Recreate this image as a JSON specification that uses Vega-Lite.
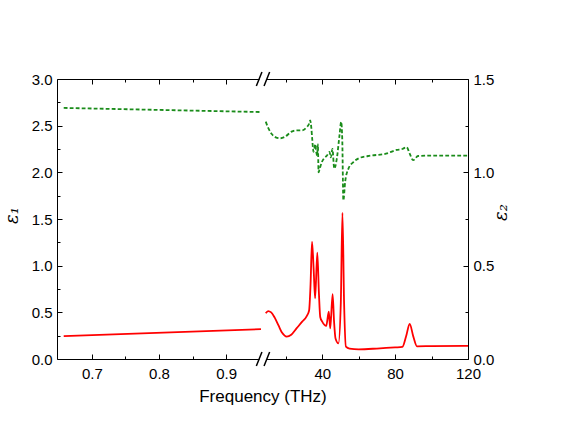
{
  "$schema": "https://vega.github.io/schema/vega-lite/v6.json",
  "width": 411,
  "height": 280,
  "autosize": {"type": "none"},
  "padding": {"left": 57, "top": 79, "right": 100, "bottom": 64},
  "background": "white",
  "config": {
    "view": {"stroke": null},
    "axis": {
      "grid": false,
      "domainColor": "black",
      "domainWidth": 1,
      "tickColor": "black",
      "tickWidth": 1,
      "labelColor": "black",
      "labelFont": "Liberation Sans",
      "labelFontSize": 15,
      "labelFlush": false,
      "labelOverlap": false,
      "titleColor": "black",
      "titleFont": "Liberation Sans",
      "titleFontSize": 16,
      "titleFontWeight": "normal"
    }
  },
  "datasets": {
    "e1": [
      {"f": 0.658, "seg": "L", "v": 2.69},
      {"f": 0.952, "seg": "L", "v": 2.646},
      {"f": 9.0, "seg": "R", "v": 2.543},
      {"f": 10.5, "seg": "R", "v": 2.47},
      {"f": 12.3, "seg": "R", "v": 2.41},
      {"f": 14.5, "seg": "R", "v": 2.375},
      {"f": 16.9, "seg": "R", "v": 2.365},
      {"f": 19.5, "seg": "R", "v": 2.38},
      {"f": 23.2, "seg": "R", "v": 2.436},
      {"f": 26.0, "seg": "R", "v": 2.45},
      {"f": 28.9, "seg": "R", "v": 2.45},
      {"f": 31.6, "seg": "R", "v": 2.486},
      {"f": 32.8, "seg": "R", "v": 2.52},
      {"f": 33.4, "seg": "R", "v": 2.557},
      {"f": 34.0, "seg": "R", "v": 2.48},
      {"f": 34.5, "seg": "R", "v": 2.36},
      {"f": 35.2, "seg": "R", "v": 2.22},
      {"f": 35.7, "seg": "R", "v": 2.26},
      {"f": 36.2, "seg": "R", "v": 2.3},
      {"f": 36.7, "seg": "R", "v": 2.22},
      {"f": 37.2, "seg": "R", "v": 2.18},
      {"f": 37.6, "seg": "R", "v": 2.3},
      {"f": 38.0, "seg": "R", "v": 2.0},
      {"f": 38.5, "seg": "R", "v": 2.03},
      {"f": 39.8, "seg": "R", "v": 2.11},
      {"f": 41.0, "seg": "R", "v": 2.15},
      {"f": 42.6, "seg": "R", "v": 2.18},
      {"f": 44.0, "seg": "R", "v": 2.22},
      {"f": 44.7, "seg": "R", "v": 2.16},
      {"f": 45.6, "seg": "R", "v": 2.25},
      {"f": 46.6, "seg": "R", "v": 2.04},
      {"f": 48.0, "seg": "R", "v": 2.145},
      {"f": 49.5, "seg": "R", "v": 2.4},
      {"f": 50.4, "seg": "R", "v": 2.54},
      {"f": 51.0, "seg": "R", "v": 2.35},
      {"f": 51.6, "seg": "R", "v": 1.7},
      {"f": 52.6, "seg": "R", "v": 1.9},
      {"f": 54.4, "seg": "R", "v": 2.04},
      {"f": 57.1, "seg": "R", "v": 2.11},
      {"f": 60.0, "seg": "R", "v": 2.15},
      {"f": 65.1, "seg": "R", "v": 2.175},
      {"f": 75.0, "seg": "R", "v": 2.2},
      {"f": 80.8, "seg": "R", "v": 2.24},
      {"f": 84.0, "seg": "R", "v": 2.25},
      {"f": 86.3, "seg": "R", "v": 2.27},
      {"f": 88.0, "seg": "R", "v": 2.2},
      {"f": 89.9, "seg": "R", "v": 2.13},
      {"f": 92.6, "seg": "R", "v": 2.175},
      {"f": 100.0, "seg": "R", "v": 2.18},
      {"f": 120.0, "seg": "R", "v": 2.18}
    ],
    "e2": [
      {"f": 0.658, "seg": "L", "v": 0.123},
      {"f": 0.952, "seg": "L", "v": 0.16},
      {"f": 9.0, "seg": "R", "v": 0.245},
      {"f": 10.3, "seg": "R", "v": 0.257},
      {"f": 12.0, "seg": "R", "v": 0.25},
      {"f": 14.0, "seg": "R", "v": 0.22},
      {"f": 16.0, "seg": "R", "v": 0.18},
      {"f": 18.0, "seg": "R", "v": 0.14},
      {"f": 20.5, "seg": "R", "v": 0.12},
      {"f": 23.0, "seg": "R", "v": 0.13},
      {"f": 26.0, "seg": "R", "v": 0.165},
      {"f": 29.0, "seg": "R", "v": 0.2},
      {"f": 31.5, "seg": "R", "v": 0.23},
      {"f": 32.8, "seg": "R", "v": 0.26},
      {"f": 33.6, "seg": "R", "v": 0.4},
      {"f": 34.4, "seg": "R", "v": 0.628},
      {"f": 35.3, "seg": "R", "v": 0.48},
      {"f": 36.1, "seg": "R", "v": 0.325},
      {"f": 37.3, "seg": "R", "v": 0.57},
      {"f": 38.2, "seg": "R", "v": 0.35},
      {"f": 38.9, "seg": "R", "v": 0.225},
      {"f": 40.0, "seg": "R", "v": 0.2},
      {"f": 42.2, "seg": "R", "v": 0.177},
      {"f": 43.6, "seg": "R", "v": 0.253},
      {"f": 44.4, "seg": "R", "v": 0.164},
      {"f": 45.7, "seg": "R", "v": 0.348},
      {"f": 46.5, "seg": "R", "v": 0.2},
      {"f": 47.3, "seg": "R", "v": 0.11},
      {"f": 48.9, "seg": "R", "v": 0.084},
      {"f": 50.2, "seg": "R", "v": 0.3},
      {"f": 51.1, "seg": "R", "v": 0.784},
      {"f": 52.0, "seg": "R", "v": 0.3},
      {"f": 53.0, "seg": "R", "v": 0.066},
      {"f": 55.0, "seg": "R", "v": 0.056},
      {"f": 60.0, "seg": "R", "v": 0.052},
      {"f": 70.0, "seg": "R", "v": 0.056},
      {"f": 80.0, "seg": "R", "v": 0.062},
      {"f": 84.0, "seg": "R", "v": 0.065},
      {"f": 86.0, "seg": "R", "v": 0.12},
      {"f": 88.0, "seg": "R", "v": 0.1875},
      {"f": 90.0, "seg": "R", "v": 0.12},
      {"f": 92.0, "seg": "R", "v": 0.068},
      {"f": 100.0, "seg": "R", "v": 0.069},
      {"f": 120.0, "seg": "R", "v": 0.07}
    ],
    "edges": [
      {"edge": 0},
      {"edge": 3}
    ]
  },
  "layer": [
    {
      "data": {"name": "e1"},
      "mark": {"type": "line", "color": "#1a8c1a", "strokeWidth": 1.8, "strokeDash": [3.8, 2.2], "interpolate": "monotone"},
      "encoding": {
        "x": {
          "field": "f", "type": "quantitative",
          "scale": {"domain": [0.648, 0.955, 7.5, 120], "range": [0, 206, 206, 411], "nice": false, "zero": false},
          "axis": {
            "orient": "bottom",
            "values": [0.7, 0.75, 0.8, 0.85, 0.9, 20, 40, 60, 80, 100, 120],
            "labelExpr": "indexof([0.7, 0.8, 0.9, 40, 80, 120], datum.value) >= 0 ? (datum.value < 1 ? format(datum.value, '.1f') : format(datum.value, 'd')) : ''",
            "tickSize": {"condition": {"test": "indexof([0.7, 0.8, 0.9, 40, 80, 120], datum.value) >= 0", "value": -5}, "value": -3},
            "labelPadding": 12,
            "title": "Frequency (THz)",
            "titleY": 42,
            "titleBaseline": "alphabetic",
            "titleFontSize": 17
          }
        },
        "y": {
          "field": "v", "type": "quantitative",
          "scale": {"domain": [0, 3], "nice": false, "zero": false},
          "axis": {
            "orient": "left",
            "values": [0, 0.25, 0.5, 0.75, 1, 1.25, 1.5, 1.75, 2, 2.25, 2.5, 2.75, 3],
            "labelExpr": "datum.value % 0.5 == 0 ? format(datum.value, '.1f') : ''",
            "tickSize": {"condition": {"test": "datum.value % 0.5 == 0", "value": -5}, "value": -3},
            "labelPadding": 10,
            "title": "ε₁",
            "titleFont": "DejaVu Serif",
            "titleFontStyle": "italic",
            "titleFontSize": 18,
            "titleAngle": 270,
            "titleAlign": "center",
            "titleBaseline": "middle",
            "titleX": -45,
            "titleY": 136
          }
        },
        "detail": {"field": "seg", "type": "nominal"}
      }
    },
    {
      "data": {"name": "e2"},
      "mark": {"type": "line", "color": "#ff0000", "strokeWidth": 1.8, "interpolate": "monotone"},
      "encoding": {
        "x": {
          "field": "f", "type": "quantitative",
          "scale": {"domain": [0.648, 0.955, 7.5, 120], "range": [0, 206, 206, 411], "nice": false, "zero": false},
          "axis": {
            "orient": "top",
            "values": [0.7, 0.75, 0.8, 0.85, 0.9, 20, 40, 60, 80, 100, 120],
            "labels": false,
            "tickSize": {"condition": {"test": "indexof([0.7, 0.8, 0.9, 40, 80, 120], datum.value) >= 0", "value": -5}, "value": -3},
            "title": null
          }
        },
        "y": {
          "field": "v", "type": "quantitative",
          "scale": {"domain": [0, 1.5], "nice": false, "zero": false},
          "axis": {
            "orient": "right",
            "values": [0, 0.25, 0.5, 0.75, 1, 1.25, 1.5],
            "labelExpr": "datum.value % 0.5 == 0 ? format(datum.value, '.1f') : ''",
            "tickSize": {"condition": {"test": "datum.value % 0.5 == 0", "value": -5}, "value": -3},
            "labelPadding": 10,
            "title": "ε₂",
            "titleFont": "DejaVu Serif",
            "titleFontStyle": "italic",
            "titleFontSize": 18,
            "titleAngle": 270,
            "titleAlign": "center",
            "titleBaseline": "middle",
            "titleX": 33,
            "titleY": 133
          }
        },
        "detail": {"field": "seg", "type": "nominal"}
      }
    },
    {
      "data": {"name": "edges"},
      "mark": {"type": "point", "shape": "M -0.5 -0.15 L 0.5 -0.15 L 0.5 0.15 L -0.5 0.15 Z", "filled": true, "color": "white", "opacity": 1, "size": 196, "strokeWidth": 0},
      "encoding": {
        "x": {"datum": 0.955, "type": "quantitative", "scale": {"domain": [0.648, 0.955, 7.5, 120], "range": [0, 206, 206, 411], "nice": false, "zero": false}, "axis": null},
        "y": {"field": "edge", "type": "quantitative", "scale": {"domain": [0, 3], "nice": false, "zero": false}, "axis": null}
      }
    },
    {
      "data": {"name": "edges"},
      "mark": {"type": "point", "shape": "M -0.95 1 L -0.15 -1 M 0.15 1 L 0.95 -1", "filled": false, "color": "black", "opacity": 1, "size": 196, "strokeWidth": 1.5},
      "encoding": {
        "x": {"datum": 0.955, "type": "quantitative", "scale": {"domain": [0.648, 0.955, 7.5, 120], "range": [0, 206, 206, 411], "nice": false, "zero": false}, "axis": null},
        "y": {"field": "edge", "type": "quantitative", "scale": {"domain": [0, 3], "nice": false, "zero": false}, "axis": null}
      }
    }
  ],
  "resolve": {"scale": {"y": "independent"}, "axis": {"x": "independent", "y": "independent"}}
}
